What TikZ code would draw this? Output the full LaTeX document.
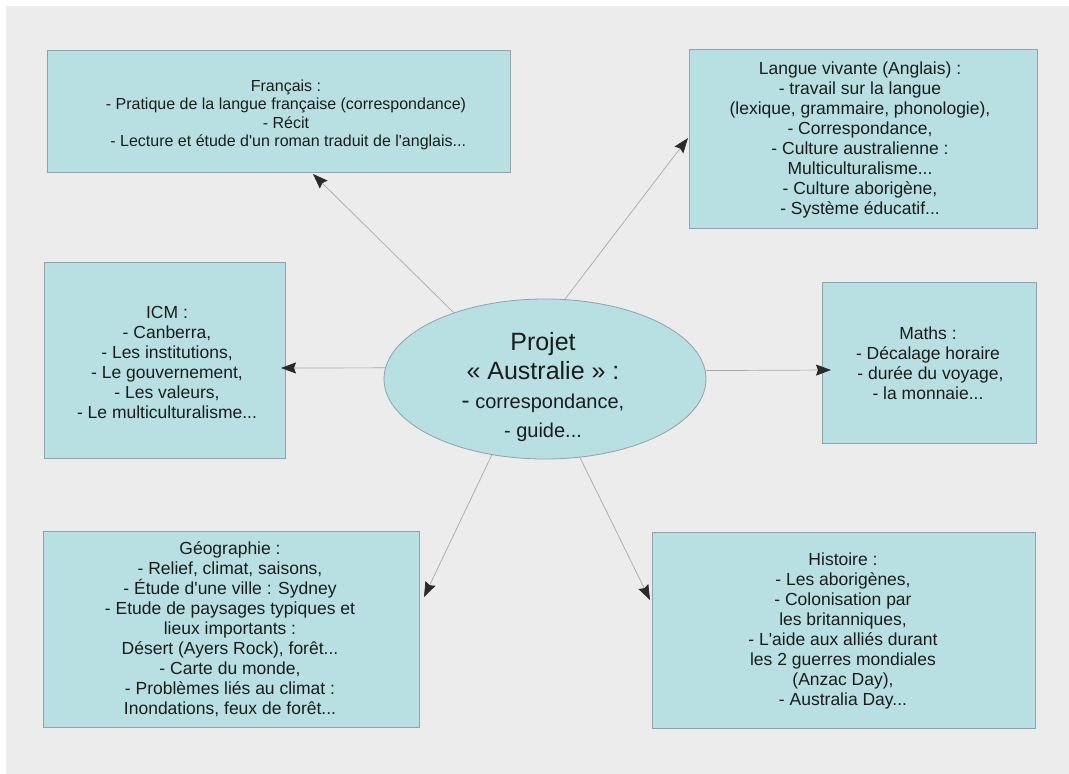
\documentclass[tikz,border=0pt]{standalone}
\usepackage{fontspec}
\setmainfont{Liberation Sans}
\usetikzlibrary{arrows.meta,shapes.geometric}
\definecolor{bg}{HTML}{ECECEC}
\definecolor{boxfill}{HTML}{B8E0E3}
\definecolor{boxline}{HTML}{8FA3A8}
\definecolor{txt}{HTML}{1C1C1C}
\definecolor{conn}{HTML}{A8A8A8}
\definecolor{tipc}{HTML}{2A2A2A}
\newcommand{\apo}{\textquotesingle}
\tikzset{
  topicbox/.style={draw=boxline, line width=0.8pt, fill=boxfill, rectangle, inner sep=0pt},
  topictext/.style={text=txt, align=center, font=\fontsize{17.5}{20}\selectfont, inner sep=0pt},
  smalltext/.style={text=txt, align=center, font=\fontsize{16}{18.5}\selectfont, inner sep=0pt},
  hub/.style={draw=boxline, line width=0.8pt, fill=boxfill, ellipse, inner sep=0pt},
  link/.style={draw=conn, line width=0.7pt, -{Stealth[length=15pt,width=11pt,inset=2pt,color=tipc]}}
}
\begin{document}
\begin{tikzpicture}[x=1pt,y=-1pt]
\useasboundingbox (0,0) rectangle (1069,774);
\fill[white] (0,0) rectangle (1069,774);
\fill[bg] (6,6) rectangle (1069,774);

% boxes
\node[topicbox, minimum width=463pt, minimum height=122pt] (fr) at (278.5,111) {};
\node[topicbox, minimum width=348pt, minimum height=179pt] (lv) at (863,138.5) {};
\node[topicbox, minimum width=241pt, minimum height=196pt] (icm) at (164.5,360) {};
\node[topicbox, minimum width=214pt, minimum height=161pt] (ma) at (929,362.5) {};
\node[topicbox, minimum width=376pt, minimum height=196pt] (geo) at (231.5,629) {};
\node[topicbox, minimum width=383pt, minimum height=196pt] (hi) at (843.5,630) {};
\node[hub, minimum width=322pt, minimum height=160pt] (ell) at (545,379) {};

% texts
\node[smalltext] (frT) at (286,115) {Français :\\- Pratique de la langue française (correspondance)\\- Récit\\\ - Lecture et étude d\apo un roman traduit de l\apo anglais...};
\node[topictext] (lvT) at (860,140) {Langue vivante (Anglais) :\\- travail sur la langue\\(lexique, grammaire, phonologie),\\- Correspondance,\\- Culture australienne :\\Multiculturalisme...\\- Culture aborigène,\\- Système éducatif...};
\node[topictext] (icmT) at (167,362) {ICM :\\- Canberra,\\- Les institutions,\\- Le gouvernement,\\- Les valeurs,\\- Le multiculturalisme...};
\node[topictext] (maT) at (928,363) {Maths :\\- Décalage horaire\\\ - durée du voyage,\\- la monnaie...};
\node[topictext] (geoT) at (230,629) {Géographie :\\- Relief, climat, saisons,\\- Étude d\apo une ville : Sydney\\- Etude de paysages typiques et\\lieux importants :\\Désert (Ayers Rock), forêt...\\- Carte du monde,\\- Problèmes liés au climat :\\Inondations, feux de forêt...};
\node[topictext] (hiT) at (843,631) {Histoire :\\- Les aborigènes,\\- Colonisation par\\les britanniques,\\- L\apo aide aux alliés durant\\les 2 guerres mondiales\\(Anzac Day),\\- Australia Day...};
\node[text=txt, align=center, inner sep=0pt, font=\fontsize{25}{29}\selectfont] (ellT) at (543,387) {Projet\\« Australie » :\\\fontsize{20}{23}\selectfont {\fontsize{24}{23}\selectfont -} correspondance,\\\fontsize{20}{23}\selectfont - guide...};

% arrow tips
\coordinate (tfr) at (313,174);
\coordinate (tlv) at (688,138);
\coordinate (ticm) at (281,368);
\coordinate (tma) at (831,370);
\coordinate (tgeo) at (424,597);
\coordinate (thi) at (650,600);

\draw[link] (ell.144.3) -- (tfr);
\draw[link] (ell.76.8) -- (tlv);
\draw[link] (ell.176.4) -- (ticm);
\draw[link] (ell.3.2) -- (tma);
\draw[link] (ell.235.6) -- (tgeo);
\draw[link] (ell.294.5) -- (thi);
\end{tikzpicture}
\end{document}
